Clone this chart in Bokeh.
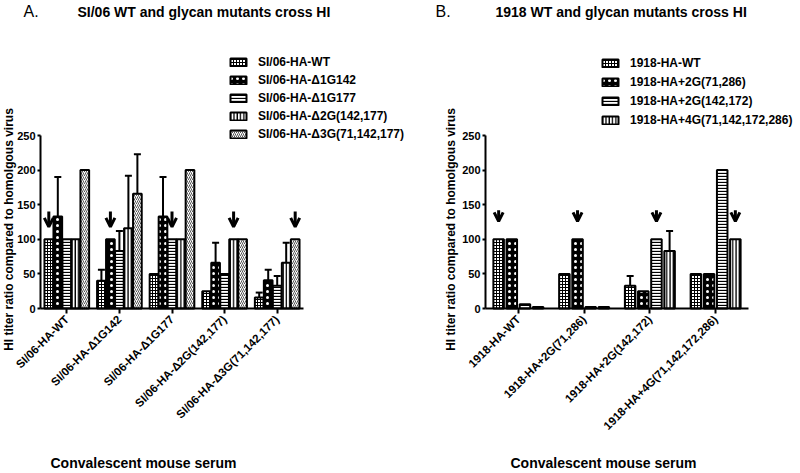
import math
from bokeh.plotting import figure
from bokeh.models import (Range1d, FixedTicker, Legend, LegendItem, Label, Arrow,
                          OpenHead, Whisker, TeeHead, ColumnDataSource)
from bokeh.layouts import row
from bokeh.embed import file_html
from bokeh.resources import INLINE

# ---------------- data ----------------
cats_A = ["SI/06-HA-WT", "SI/06-HA-\u03941G142", "SI/06-HA-\u03941G177",
          "SI/06-HA-\u03942G(142,177)", "SI/06-HA-\u03943G(71,142,177)"]
series_A = ["SI/06-HA-WT", "SI/06-HA-\u03941G142", "SI/06-HA-\u03941G177",
            "SI/06-HA-\u03942G(142,177)", "SI/06-HA-\u03943G(71,142,177)"]
wt_A = [100, 40, 50, 25, 16]
d1g142_A = [133, 100, 133, 66, 41]
d1g177_A = [100, 83, 100, 50, 33]
d2g_A = [100, 116, 100, 100, 66]
d3g_A = [200, 166, 200, 100, 100]
wt_A_err = [0, 16, 0, 0, 7]
d1g142_A_err = [57, 0, 57, 29, 15]
d1g177_A_err = [0, 29, 0, 0, 14]
d2g_A_err = [0, 76, 0, 0, 29]
d3g_A_err = [0, 57, 0, 0, 0]
arrow_series_A = [0, 1, 2, 3, 4]

cats_B = ["1918-HA-WT", "1918-HA+2G(71,286)", "1918-HA+2G(142,172)",
          "1918-HA+4G(71,142,172,286)"]
series_B = ["1918-HA-WT", "1918-HA+2G(71,286)", "1918-HA+2G(142,172)",
            "1918-HA+4G(71,142,172,286)"]
wt_B = [100, 50, 33, 50]
g2a_B = [100, 100, 25, 50]
g2b_B = [6, 2, 100, 200]
g4_B = [2, 2, 83, 100]
wt_B_err = [0, 0, 14, 0]
g2a_B_err = [0, 0, 0, 0]
g2b_B_err = [0, 0, 0, 0]
g4_B_err = [0, 0, 29, 0]
arrow_series_B = [0, 1, 2, 3]

y_ticks = [0, 50, 100, 150, 200, 250]
y_max = 250
ylab = "HI titer ratio compared to homolgous virus"
xlab = "Convalescent mouse serum"
title_A = "SI/06 WT and glycan mutants cross HI"
title_B = "1918 WT and glycan mutants cross HI"

FONT = "Liberation Sans"

STYLE_FINE = dict(fill_color="white", hatch_pattern="cross", hatch_scale=3, hatch_weight=1, hatch_color="black")
STYLE_BOLD = dict(fill_color="black", hatch_pattern="dot", hatch_scale=6, hatch_weight=3, hatch_color="white")
STYLE_H = dict(fill_color="white", hatch_pattern="horizontal_line", hatch_scale=3, hatch_weight=1.3, hatch_color="black")
STYLE_V = dict(fill_color="white", hatch_pattern="vertical_line", hatch_scale=3.3, hatch_weight=1.3, hatch_color="black")
STYLE_D = dict(fill_color="white", hatch_pattern="right_diagonal_line", hatch_scale=4, hatch_weight=1.0, hatch_color="#555555")

H = 473          # figure height (px)
AX_TOP = 135     # pixel row of y = 250
AX_BOT = 308     # pixel row of y = 0


def panel(W, AXL, AXR, cats, names, vals, errs, styles, offsets, bar_w, arrow_idx,
          arrow_y, letter, letter_x, title, title_x, ylab_x, xlab_x, leg_x, leg_row):
    n = len(cats)
    sx = (AXR - AXL) / n                 # px per category
    sy = (AX_BOT - AX_TOP) / y_max       # px per y unit
    xr = Range1d(0.5 - AXL / sx, 0.5 + (W - AXL) / sx)
    yr = Range1d(-(H - AX_BOT) / sy, y_max + AX_TOP / sy)
    p = figure(width=W, height=H, output_backend="svg", toolbar_location=None,
               x_range=xr, y_range=yr, min_border=0,
               min_border_left=0, min_border_right=0, min_border_top=0, min_border_bottom=0)
    p.title.visible = False
    p.outline_line_color = None
    p.grid.visible = False
    p.background_fill_color = None
    p.border_fill_color = None

    xs = [i + 1 for i in range(n)]
    items = []
    for k, (name, v, e, st, off) in enumerate(zip(names, vals, errs, styles, offsets)):
        bx = [x + off for x in xs]
        r = p.vbar(x=bx, top=v, width=bar_w, line_color="black", line_width=2, **st)
        items.append(LegendItem(label=name, renderers=[r]))
        sel = [i for i in range(n) if e[i] > 0]
        if sel:
            src = ColumnDataSource(dict(base=[bx[i] for i in sel],
                                        lower=[v[i] for i in sel],
                                        upper=[v[i] + e[i] for i in sel]))
            p.add_layout(Whisker(base="base", lower="lower", upper="upper", source=src,
                                 lower_head=None, line_width=2, line_color="black",
                                 upper_head=TeeHead(size=7, line_width=2, line_color="black")))
    asrc = ColumnDataSource(dict(
        x=[xs[i] + offsets[arrow_idx[i]] for i in range(n)],
        y0=[arrow_y[0]] * n, y1=[arrow_y[1]] * n))
    p.add_layout(Arrow(x_start="x", y_start="y0", x_end="x", y_end="y1", source=asrc,
                       line_width=3, line_color="black",
                       end=OpenHead(size=9, line_width=3, line_color="black")))

    # axes (fixed inside the frame, bounded to the data region)
    xa, ya = p.xaxis[0], p.yaxis[0]
    xa.fixed_location = 0
    ya.fixed_location = 0.5
    xa.bounds = (0.5, n + 0.5)
    ya.bounds = (0, y_max)
    xa.ticker = FixedTicker(ticks=xs)
    xa.major_label_overrides = {x: c for x, c in zip(xs, cats)}
    xa.major_label_orientation = math.pi / 4
    xa.major_label_text_font = FONT
    xa.major_label_text_font_style = "bold"
    xa.major_label_text_font_size = "11.5px"
    xa.major_label_text_color = "black"
    xa.major_label_standoff = 4
    ya.ticker = FixedTicker(ticks=y_ticks)
    ya.major_label_text_font = FONT
    ya.major_label_text_font_style = "bold"
    ya.major_label_text_font_size = "11px"
    ya.major_label_text_color = "black"
    ya.major_label_standoff = 2
    for ax in (xa, ya):
        ax.axis_line_width = 2
        ax.axis_line_color = "black"
        ax.major_tick_line_width = 2
        ax.major_tick_line_color = "black"
        ax.major_tick_in = 0
        ax.minor_tick_line_color = None
    xa.major_tick_out = 5
    ya.major_tick_out = 3

    def lab(text, fx, fy, size, style, align="left", angle=0.0):
        p.add_layout(Label(x=fx, y=H - fy, x_units="screen", y_units="screen",
                           text=text, text_font=FONT, text_font_size=size,
                           text_font_style=style, text_color="black",
                           text_align=align, text_baseline="middle", angle=angle))

    lab(letter, letter_x, 11, "16px", "normal")
    lab(title, title_x, 11, "14px", "bold")
    lab(ylab, ylab_x, 229, "12px", "bold", align="center", angle=math.pi / 2)
    lab(xlab, xlab_x, 462, "14px", "bold")

    leg_top = 53
    leg = Legend(items=items, location=(leg_x, H - (leg_top + leg_row * len(items))),
                 orientation="vertical", glyph_width=20, glyph_height=10,
                 label_height=leg_row, spacing=0, padding=0, margin=0, label_standoff=10,
                 border_line_alpha=0, background_fill_alpha=0,
                 label_text_font=FONT, label_text_font_size="12px",
                 label_text_font_style="bold", label_text_color="black")
    p.add_layout(leg, "center")
    return p


pA = panel(410, 40, 303, cats_A, series_A,
           [wt_A, d1g142_A, d1g177_A, d2g_A, d3g_A],
           [wt_A_err, d1g142_A_err, d1g177_A_err, d2g_A_err, d3g_A_err],
           [STYLE_FINE, STYLE_BOLD, STYLE_H, STYLE_V, STYLE_D],
           [-0.342, -0.171, 0.0, 0.171, 0.342], 0.165, arrow_series_A, (140, 118),
           "A.", 23, title_A, 77, 8, 50, 228, 18)

pB = panel(390, 75, 338, cats_B, series_B,
           [wt_B, g2a_B, g2b_B, g4_B],
           [wt_B_err, g2a_B_err, g2b_B_err, g4_B_err],
           [STYLE_FINE, STYLE_BOLD, STYLE_H, STYLE_V],
           [-0.3, -0.1, 0.1, 0.3], 0.16, arrow_series_B, (142, 126),
           "B.", 25, title_B, 85, 40, 100, 190, 19)

layout = row(pA, pB)
open("out.html", "w").write(file_html(layout, INLINE))
